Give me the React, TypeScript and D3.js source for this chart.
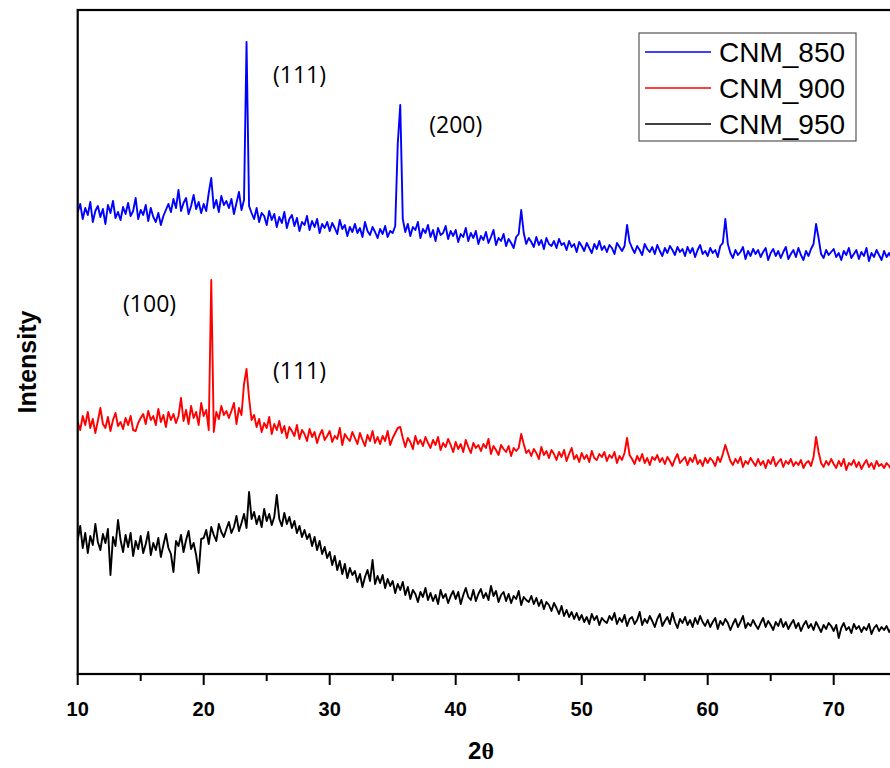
import React from "react";
import * as d3 from "d3";

// 2θ sampling grid (degrees)
const thetaStart = 10;
const thetaStep = 0.2;

// Intensity (a.u., offset-stacked) sampled every 0.2° from 10° to 75°
const cnm850: number[] = [
  462,470,455,466,459,472,452,463,468,457,
  465,450,469,461,473,456,462,454,467,460,
  471,458,463,476,455,464,459,469,453,466,
  457,452,461,449,458,464,470,462,475,466,
  484,463,471,476,460,468,479,465,472,461,
  470,463,481,496,466,474,462,478,469,473,
  466,475,460,471,482,464,474,632,468,461,
  455,466,452,461,458,449,463,454,460,447,
  457,451,462,446,455,459,448,456,443,452,
  449,458,444,453,447,455,441,450,446,452,
  443,451,446,440,454,445,449,438,447,442,
  450,441,446,437,452,443,439,447,442,436,
  445,440,448,437,443,441,448,530,569,455,
  442,450,438,447,444,452,436,445,441,449,
  437,444,433,446,439,441,448,435,443,438,
  444,432,440,437,446,433,441,436,443,430,
  438,434,442,431,437,444,429,436,433,440,
  428,435,431,426,437,440,464,441,430,436,
  432,427,437,429,434,425,436,430,428,433,
  426,435,429,431,424,433,427,430,422,432,
  428,423,431,426,421,430,425,433,424,428,
  422,429,426,420,431,427,423,428,449,432,
  426,421,428,424,419,430,425,422,427,420,
  429,423,418,426,421,428,424,419,427,422,
  425,418,427,421,426,417,424,429,420,423,
  418,426,421,424,417,428,431,455,430,421,
  416,424,419,422,427,415,423,418,425,420,
  424,417,422,426,414,421,425,418,423,416,
  422,427,415,420,424,417,426,419,414,423,
  418,425,430,450,436,420,416,424,419,422,
  425,417,421,414,423,419,426,416,420,424,
  415,422,418,426,413,421,417,424,419,414,
  423,417,421,415,420,418,
];

const cnm900: number[] = [
  252,244,258,249,262,246,255,241,253,266,
  250,246,257,243,254,261,248,252,245,256,
  249,258,244,243,251,256,260,250,263,254,
  258,249,265,252,259,247,262,254,260,251,
  258,276,253,264,250,268,256,262,249,271,
  258,264,244,394,242,262,255,268,259,263,
  256,263,271,250,266,259,290,305,276,254,
  259,247,255,242,251,246,257,240,250,244,
  253,241,248,236,247,243,238,249,235,244,
  240,233,245,237,242,231,239,244,234,238,
  243,232,238,235,246,229,240,236,233,242,
  236,230,241,234,228,239,233,243,231,237,
  230,238,233,243,229,236,241,246,247,236,
  227,236,232,225,238,230,234,228,237,231,
  226,234,229,237,224,231,227,235,229,222,
  232,225,230,222,234,227,221,231,226,229,
  223,230,226,235,220,228,224,219,229,225,
  222,228,218,226,223,226,240,230,221,224,
  218,225,221,215,227,219,223,216,224,220,
  214,222,217,224,213,220,226,215,219,212,
  221,215,219,212,223,216,214,220,217,222,
  213,219,216,222,211,218,214,221,236,219,
  215,210,218,213,220,211,216,209,217,214,
  219,212,216,210,217,213,208,215,220,211,
  214,217,209,216,212,219,210,214,208,216,
  211,216,213,208,217,212,220,229,221,213,
  209,215,211,217,207,213,210,216,212,208,
  215,209,213,206,214,210,217,208,212,215,
  207,213,210,215,208,212,209,214,206,211,
  213,208,217,237,222,211,207,213,209,215,
  210,206,213,208,215,204,211,209,214,207,
  212,205,210,214,207,211,205,213,208,210,
  206,211,208,204,210,207,
];

const cnm950: number[] = [
  134,148,126,141,121,138,129,150,132,124,
  140,131,145,99,137,128,154,134,122,139,
  127,141,118,133,125,138,121,130,142,119,
  131,124,136,117,129,140,126,120,102,133,
  128,139,122,134,143,125,131,119,101,135,
  136,144,130,147,139,133,150,142,137,145,
  152,141,147,158,143,151,160,146,182,155,
  162,150,158,147,165,153,160,149,157,179,
  155,148,161,150,157,146,153,141,148,137,
  144,135,140,128,137,124,133,120,127,116,
  122,109,118,104,113,100,110,96,106,99,
  103,92,100,87,97,104,93,114,90,98,
  91,99,86,95,88,93,81,90,84,92,
  79,87,75,84,80,72,82,77,86,74,
  81,73,79,70,84,76,80,71,78,83,
  75,82,70,79,86,77,74,84,73,80,
  85,76,81,74,88,78,83,72,79,82,
  73,80,71,78,75,83,69,77,74,72,
  78,70,76,68,74,65,72,69,63,71,
  66,60,68,58,64,57,62,55,61,54,
  59,52,57,50,60,54,58,49,56,53,
  51,58,54,61,50,56,52,59,48,55,
  57,50,54,62,49,55,51,58,53,47,
  55,60,48,53,57,50,61,52,46,55,
  51,57,49,54,47,56,50,58,52,48,
  54,47,52,56,45,53,49,55,51,44,
  50,55,47,52,58,46,51,48,54,49,
  45,51,56,47,53,49,44,52,48,55,
  47,52,45,50,54,46,51,43,49,53,
  46,50,44,52,47,42,49,45,51,48,
  43,49,36,46,51,44,47,41,50,45,
  48,42,47,44,50,40,46,49,43,47,
  44,48,42,46,41,45,
];

const seriesNames = ["CNM_850", "CNM_900", "CNM_950"];
const seriesColors = ["#0000ff", "#ff0000", "#000000"];
const seriesData = [cnm850, cnm900, cnm950];

const xMajorTicks = [10, 20, 30, 40, 50, 60, 70];
const xMinorTicks = [15, 25, 35, 45, 55, 65, 75];

const annotations = [
  { label: "(111)", x: 25.5, y: 599 },
  { label: "(200)", x: 37.9, y: 549 },
  { label: "(100)", x: 13.6, y: 370 },
  { label: "(111)", x: 25.5, y: 303 },
];

export default function App() {
  const W = 890, H = 768;
  const left = 77.7, top = 10, bottom = 674;
  const x = d3.scaleLinear().domain([10, 80]).range([left, left + 70 * 12.6]);
  const y = d3.scaleLinear().domain([0, 664]).range([bottom, top]);

  const line = d3
    .line<number>()
    .x((_, i) => x(thetaStart + i * thetaStep))
    .y((d) => y(d));

  return (
    <svg width={W} height={H} style={{ position: "absolute", left: 0, top: 0, background: "#fff" }}>
      <defs>
        <clipPath id="plotclip">
          <rect x={left} y={top} width={x(80) - left} height={bottom - top} />
        </clipPath>
      </defs>
      <rect width={W} height={H} fill="#fff" />
      <g clipPath="url(#plotclip)">
        {seriesData.map((d, k) => (
          <path key={k} d={line(d) || ""} fill="none" stroke={seriesColors[k]} strokeWidth={1.9} strokeLinejoin="round" />
        ))}
      </g>
      {/* frame */}
      <rect x={left} y={top} width={x(80) - left} height={bottom - top} fill="none" stroke="#000" strokeWidth={2.2} />
      {/* ticks */}
      {xMajorTicks.map((t) => (
        <g key={"M" + t}>
          <line x1={x(t)} x2={x(t)} y1={bottom} y2={bottom + 11} stroke="#000" strokeWidth={2} />
          <text x={x(t)} y={716} textAnchor="middle" fontFamily="Liberation Sans, Arial, sans-serif" fontWeight="bold" fontSize={20}>
            {t}
          </text>
        </g>
      ))}
      {xMinorTicks.map((t) => (
        <line key={"m" + t} x1={x(t)} x2={x(t)} y1={bottom} y2={bottom + 7} stroke="#000" strokeWidth={2} />
      ))}
      {/* axis titles */}
      <text x={481} y={759} textAnchor="middle" fontWeight="bold" fontSize={24}>
        <tspan fontFamily="Liberation Sans, Arial, sans-serif">2</tspan>
        <tspan fontFamily="Liberation Serif, Times New Roman, serif">θ</tspan>
      </text>
      <text
        transform="translate(36,362) rotate(-90)"
        textAnchor="middle"
        fontFamily="Liberation Sans, Arial, sans-serif"
        fontWeight="bold"
        fontSize={25}
      >
        Intensity
      </text>
      {/* annotations */}
      {annotations.map((a, i) => (
        <text key={i} x={x(a.x)} y={y(a.y) + 8} fontFamily="Open Sans, Liberation Sans, sans-serif" fontSize={23}>
          {a.label}
        </text>
      ))}
      {/* legend */}
      <rect x={639} y={33} width={217} height={108} fill="#fff" stroke="#555" strokeWidth={1.2} />
      {seriesNames.map((n, k) => (
        <g key={n}>
          <line x1={645} x2={711} y1={52 + k * 36} y2={52 + k * 36} stroke={seriesColors[k]} strokeWidth={1.6} />
          <text x={719} y={62 + k * 36} fontFamily="Liberation Sans, Arial, sans-serif" fontSize={28}>
            {n}
          </text>
        </g>
      ))}
    </svg>
  );
}
